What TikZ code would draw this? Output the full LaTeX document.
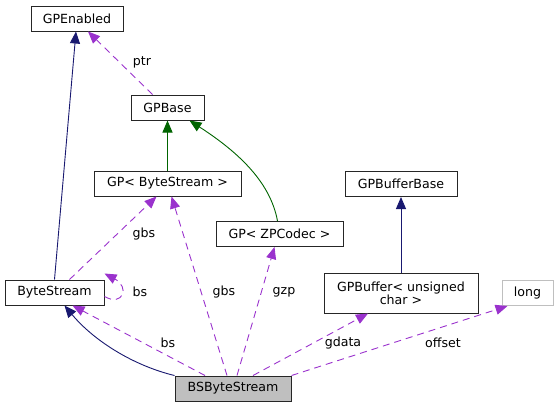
\documentclass[tikz,border=0pt]{standalone}
\usepackage{fontspec}
\setmainfont{DejaVu Sans}
\usepackage{xcolor}
\usetikzlibrary{arrows.meta}
\definecolor{inhnavy}{HTML}{191970}
\definecolor{tplgreen}{HTML}{006400}
\definecolor{usepurple}{HTML}{9A32CD}
\definecolor{cellgray}{HTML}{BFBFBF}

\begin{document}
\begin{tikzpicture}[
  x=1pt, y=-1pt,
  font=\fontsize{12.6}{15}\selectfont,
  cls/.style={draw=black!85, line width=1pt, inner sep=0pt, minimum height=25pt, align=center},
  inh/.style={-{Triangle[length=12pt,width=10pt]}, line width=0.9pt, color=inhnavy},
  tpl/.style={-{Triangle[length=12pt,width=10pt]}, line width=0.9pt, color=tplgreen},
  use/.style={-{Triangle[length=12pt,width=10pt]}, line width=0.9pt, color=usepurple, dash pattern=on 7pt off 5pt},
  lbl/.style={inner sep=1pt}
]
\useasboundingbox (0,0) rectangle (559,408);

\node[cls, minimum width=92pt] (gpenabled) at (77,18.5) {GPEnabled};
\node[cls, minimum width=73pt] (gpbase) at (167.5,107.5) {GPBase};
\node[cls, minimum width=147pt] (gpbs) at (167.5,183.5) {GP< ByteStream >};
\node[cls, minimum width=112pt] (gpbufbase) at (401,184) {GPBufferBase};
\node[cls, minimum width=127pt] (gpzp) at (279.5,234) {GP< ZPCodec >};
\node[cls, minimum width=99pt] (bytestream) at (54.5,292.5) {ByteStream};
\node[cls, minimum width=154pt, minimum height=40pt] (gpbuf) at (401,293) {GPBuffer< unsigned\\[-2pt]char >};
\node[cls, draw=cellgray, minimum width=51pt] (long) at (527.5,293) {long};
\node[cls, fill=cellgray, minimum width=116pt] (bsbs) at (233,388.5) {BSByteStream};

% inheritance
\draw[inh] (bytestream.north) -- ([xshift=-1pt]gpenabled.south);
\draw[inh] (bsbs.north west) .. controls (135,366) and (95,342) .. ([xshift=10pt]bytestream.south);
\draw[inh] (gpbuf.north) -- (gpbufbase.south);

% template instances
\draw[tpl] (gpbs.north) -- (gpbase.south);
\draw[tpl] ([xshift=-2pt]gpzp.north) .. controls (270,180) and (235,150) .. ([xshift=22pt]gpbase.south);

% usage
\draw[use] ([xshift=-15pt]gpbase.north) -- ([xshift=11pt]gpenabled.south);
\draw[use] ([xshift=15pt]bytestream.north) -- ([xshift=-11pt]gpbs.south);
\draw[use] ([yshift=-4pt]bytestream.east) .. controls (123,307) and (130,287) .. ([yshift=6pt]bytestream.north east);
\draw[use] ([xshift=-28pt]bsbs.north) -- ([xshift=18pt]bytestream.south);
\draw[use] ([xshift=-6pt]bsbs.north) -- ([xshift=4pt]gpbs.south);
\draw[use] ([xshift=4pt]bsbs.north) -- ([xshift=-5pt]gpzp.south);
\draw[use] ([xshift=20pt]bsbs.north) -- ([xshift=-33pt]gpbuf.south);
\draw[use] (bsbs.north east) -- ([xshift=-20pt]long.south);

\node[lbl] (lptr) at (142,62) {ptr};
\node[lbl] (lgbsa) at (144,234) {gbs};
\node[lbl] (lbsa) at (140,292) {bs};
\node[lbl] (lgbsb) at (224,292) {gbs};
\node[lbl] (lgzp) at (284,292) {gzp};
\node[lbl] (lbsb) at (168,343) {bs};
\node[lbl] (lgdata) at (343,343) {gdata};
\node[lbl] (loffset) at (443,343) {offset};
\end{tikzpicture}
\end{document}
